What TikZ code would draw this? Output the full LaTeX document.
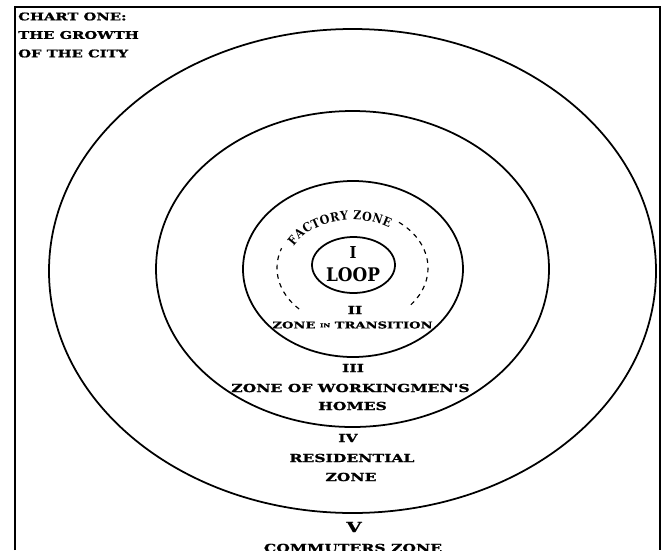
\documentclass[tikz,border=0pt]{standalone}
\usepackage{fontspec}
\usetikzlibrary{decorations.text}

\newfontfamily\slabfont[FakeStretch=1.4, FakeBold=1.2]{DejaVu Serif}
\newfontfamily\loopfont[FakeStretch=0.9]{DejaVu Serif}

\begin{document}
\begin{tikzpicture}[
    x=0.03cm, y=-0.03cm,
    ring/.style={draw=black, line width=1.5pt},
    dashring/.style={
        draw=black, line width=1pt,
        dash pattern=on 4pt off 4pt
    },
    title/.style={
        anchor=west, inner sep=0pt,
        font=\slabfont\bfseries\fontsize{9}{10}\selectfont
    },
    zonetext/.style={
        inner sep=0pt,
        font=\slabfont\bfseries\fontsize{9.5}{11}\selectfont
    },
    looptext/.style={
        inner sep=0pt,
        font=\loopfont\bfseries\fontsize{16}{18}\selectfont
    }
]
\useasboundingbox (0,0) rectangle (663,550);

%% Frame, open at the bottom
\draw[line width=1.5pt] (15,550) -- (15,7) -- (660,7) -- (660,550);

%% Centres of the rings
\coordinate (C5) at (352.5,271);
\coordinate (C4) at (352.5,269);
\coordinate (C3) at (353,269);
\coordinate (CF) at (352.5,268);
\coordinate (C1) at (353.5,265);

%% Rings (outside to inside)
\draw[ring] (C5) ellipse [x radius=303.5, y radius=242];
\draw[ring] (C4) ellipse [x radius=196.5, y radius=158];
\draw[ring] (C3) ellipse [x radius=110, y radius=88];
\draw[ring] (C1) ellipse [x radius=41.5, y radius=28];

%% Factory zone: dashed ring, open at the bottom and at the top-left
\draw[dashring, shift={(CF)}] (308:75.5 and 58)
    arc[start angle=308, end angle=400, x radius=75.5, y radius=58];
\draw[dashring, shift={(CF)}] (135:75.5 and 58)
    arc[start angle=135, end angle=200, x radius=75.5, y radius=58];
\path[shift={(CF)}, decorate, decoration={text along path, text align=fit to path,
    text={|\loopfont\bfseries\fontsize{10.5}{12}\selectfont|FACTORY ZONE}}]
    (207:66 and 48) arc[start angle=207, end angle=304, x radius=66, y radius=48];

%% Title
\node[title] (t1) at (18,16.5) {CHART ONE:};
\node[title] (t2) at (18,35) {THE GROWTH};
\node[title] (t3) at (18,53.5) {OF THE CITY};

%% Zone I
\node[looptext, font=\loopfont\bfseries\fontsize{14}{16}\selectfont] (n1) at (353,253) {I};
\node[looptext] (loop) at (353,274.5) {LOOP};

%% Zone II
\node[zonetext] (n2) at (355,310) {II};
\node[zonetext, font=\slabfont\bfseries\fontsize{8}{10}\selectfont] (z2) at (352.5,325)
    {ZONE {\fontsize{4.5}{5}\selectfont\raisebox{1pt}{IN}} TRANSITION};

%% Zone III
\node[zonetext] (n3) at (353,368) {III};
\node[zonetext] (z3a) at (350.5,388) {ZONE OF WORKINGMEN'S};
\node[zonetext] (z3b) at (352.5,406) {HOMES};

%% Zone IV
\node[zonetext] (n4) at (348,438) {IV};
\node[zonetext] (z4a) at (352,458) {RESIDENTIAL};
\node[zonetext] (z4b) at (351,477) {ZONE};

%% Zone V
\node[zonetext, font=\slabfont\bfseries\fontsize{12}{14}\selectfont] (n5) at (354,527) {V};
\node[zonetext] (z5) at (353,548) {COMMUTERS ZONE};

\end{tikzpicture}
\end{document}
